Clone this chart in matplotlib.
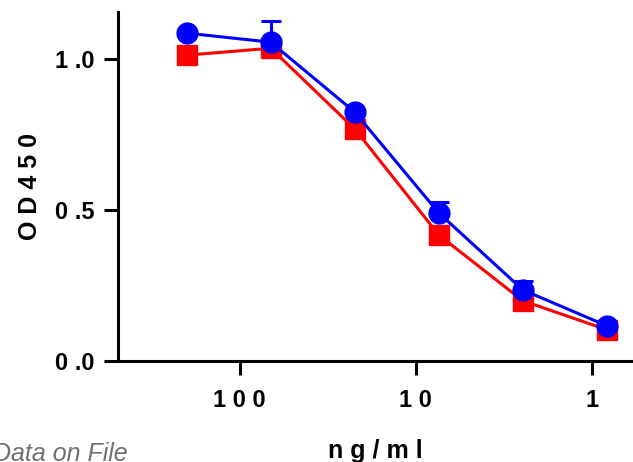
import numpy as np
import matplotlib.pyplot as plt

plt.rcParams["font.family"] = ["Liberation Sans", "DejaVu Sans"]

conc = [200, 66.7, 22.2, 7.41, 2.47, 0.823]
red_od = [1.013, 1.036, 0.768, 0.417, 0.199, 0.103]
red_err = [0.0, 0.0, 0.0, 0.0, 0.0, 0.0]
blue_od = [1.086, 1.056, 0.824, 0.490, 0.235, 0.116]
blue_err = [0.0, 0.070, 0.0, 0.035, 0.028, 0.0]

xticks = [100, 10, 1]
xticklabels = ["1 0 0", "1 0", "1"]
yticks = [0.0, 0.5, 1.0]
yticklabels = ["0 .0", "0 .5", "1 .0"]

fig = plt.figure(figsize=(6.33, 4.62), dpi=100)
ax = fig.add_axes([0.186, 0.219, 0.814, 0.755])

ax.errorbar(conc, red_od, yerr=[np.zeros(len(red_err)), red_err], color="#ff0000",
            marker="s", markersize=15, linewidth=2.2, capsize=7.5, capthick=2.2,
            elinewidth=2.2, zorder=3)
ax.errorbar(conc, blue_od, yerr=[np.zeros(len(blue_err)), blue_err], color="#0000ff",
            marker="o", markersize=15, linewidth=2.2, capsize=7.5, capthick=2.2,
            elinewidth=2.2, zorder=4)

ax.set_xscale("log")
ax.set_xlim(493, 0.585)
ax.set_ylim(0, 1.156)
ax.set_xticks(xticks)
ax.set_xticklabels(xticklabels)
ax.minorticks_off()
ax.set_yticks(yticks)
ax.set_yticklabels(yticklabels)

for s in ["top", "right"]:
    ax.spines[s].set_visible(False)
for s in ["left", "bottom"]:
    ax.spines[s].set_linewidth(2.2)
ax.tick_params(width=2.2, length=10, labelsize=17)
ax.tick_params(axis="x", pad=10)
ax.tick_params(axis="y", pad=7)
for lab in ax.get_xticklabels() + ax.get_yticklabels():
    lab.set_fontweight("bold")

ax.set_xlabel("n g / m l", fontsize=18, fontweight="bold", labelpad=20)
ax.set_ylabel("O D 4 5 0", fontsize=18, fontweight="bold", labelpad=9)

# caption is cut at the left edge in the source image
fig.text(128 / 633, 1 / 462, "Data on File", ha="right", va="baseline",
         fontsize=18, style="italic", color="#707070")

fig.savefig("out.png", dpi=100)
